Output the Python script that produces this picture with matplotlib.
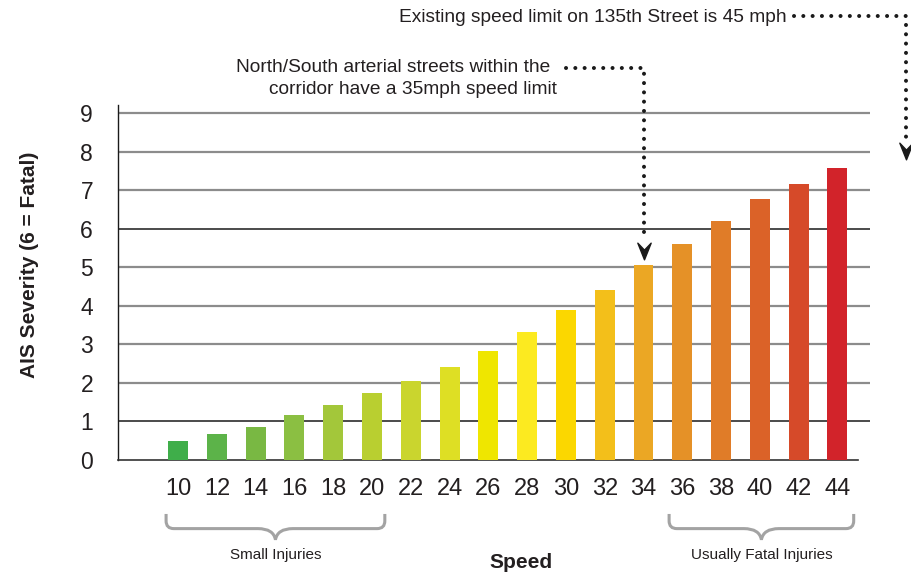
import numpy as np
import matplotlib.pyplot as plt
from matplotlib.path import Path
from matplotlib.patches import PathPatch

plt.rcParams['font.family'] = ['Liberation Sans', 'DejaVu Sans']

# speed (mph) vs. injury severity on the AIS scale
speeds = [10, 12, 14, 16, 18, 20, 22, 24, 26, 28, 30, 32, 34, 36, 38, 40, 42, 44]
severity = [0.48, 0.67, 0.86, 1.17, 1.43, 1.74, 2.05, 2.41, 2.83, 3.33,
            3.88, 4.42, 5.05, 5.60, 6.21, 6.76, 7.17, 7.57]
bar_colors = ['#3fae4a', '#5cb349', '#79b843', '#8bbf42', '#a3c73a', '#b9cf30',
              '#cad52e', '#dedf24', '#efe600', '#fcea20', '#fbd700', '#f3bf1a',
              '#eba724', '#e59127', '#e07c28', '#db6228', '#d64a29', '#d2232a']
y_ticks = [0, 1, 2, 3, 4, 5, 6, 7, 8, 9]
dark_lines = [1, 6]

txt = '#231f20'

fig = plt.figure(figsize=(9.12, 5.75), dpi=100)
ax = fig.add_axes([118 / 912, 115 / 575, 752 / 912, 355 / 575])

x = np.arange(len(speeds))
ax.bar(x, severity, width=0.515, color=bar_colors, zorder=3)

for v in y_ticks[1:]:
    if v in dark_lines:
        ax.axhline(v, color='#1a1a1a', lw=1.1, zorder=1)
    else:
        ax.axhline(v, color='#8c8c8c', lw=1.6, zorder=1)

ax.set_xlim(-1.55, 17.84)
ax.set_ylim(0, 9.21)
ax.set_xticks(x)
ax.set_xticklabels([str(s) for s in speeds], fontsize=17, color=txt)
ax.set_yticks(y_ticks)
ax.set_yticklabels([str(v) for v in y_ticks], fontsize=16.5, color=txt)
ax.tick_params(axis='both', length=0)
ax.tick_params(axis='x', pad=13)
ax.tick_params(axis='y', pad=18)

for s in ['top', 'right']:
    ax.spines[s].set_visible(False)
ax.spines['left'].set_color('#1a1a1a')
ax.spines['left'].set_linewidth(1.0)
ax.spines['bottom'].set_color('#333333')
ax.spines['bottom'].set_linewidth(1.2)
ax.spines['bottom'].set_bounds(-1.55, 17.53)

fig.text(30 / 912, 1 - 265 / 575, 'AIS Severity (6 = Fatal)', rotation=90,
         ha='center', va='center', fontsize=15, fontweight='bold', color=txt)
fig.text(521 / 912, 1 - 563 / 575, 'Speed', ha='center', va='center',
         fontsize=15, fontweight='bold', color=txt)


def brace(x0, x1, label):
    y0, yh, yt = -1.40, -1.78, -2.07
    rx, ry = 0.2, 0.2
    xm = (x0 + x1) / 2
    verts = [(x0, y0), (x0, yh + ry), (x0, yh), (x0 + rx, yh),
             (xm - 0.45, yh), (xm - 0.05, yh), (xm, yt),
             (xm + 0.05, yh), (xm + 0.45, yh),
             (x1 - rx, yh), (x1, yh), (x1, yh + ry), (x1, y0)]
    codes = [Path.MOVETO, Path.LINETO, Path.CURVE3, Path.CURVE3,
             Path.LINETO, Path.CURVE3, Path.CURVE3,
             Path.CURVE3, Path.CURVE3,
             Path.LINETO, Path.CURVE3, Path.CURVE3, Path.LINETO]
    ax.add_patch(PathPatch(Path(verts, codes), fill=False, ec='#a3a3a3',
                           lw=2.2, clip_on=False, capstyle='butt'))
    ax.text(xm, -2.47, label, ha='center', va='center', fontsize=11,
            color=txt, clip_on=False)


brace(speeds.index(10) - 0.31, speeds.index(20) + 0.33, 'Small Injuries')
brace(speeds.index(36) - 0.34, speeds.index(44) + 0.42, 'Usually Fatal Injuries')

# chevron arrow head pointing down
head = Path([(-0.4, 0.5), (0, 0.08), (0.4, 0.5), (0, -0.5), (-0.4, 0.5)],
            [Path.MOVETO, Path.LINETO, Path.LINETO, Path.LINETO, Path.CLOSEPOLY])
dots = dict(color='#1a1a1a', lw=2.9, ls=(0, (0.01, 2.3)),
            dash_capstyle='round', clip_on=False, zorder=5)

# 35 mph arterial streets -> bar at 34 mph
i34 = speeds.index(34)
tip = severity[i34] + 0.15
ax.plot([10.0, i34, i34], [10.17, 10.17, tip + 0.5], **dots)
ax.plot([i34], [tip + 0.22], marker=head, ms=12, color='#1a1a1a',
        clip_on=False, zorder=6)
fig.text(550 / 912, 1 - 68 / 575, 'North/South arterial streets within the',
         ha='right', va='center', fontsize=13.8, color=txt)
fig.text(557 / 912, 1 - 90 / 575, 'corridor have a 35mph speed limit',
         ha='right', va='center', fontsize=13.8, color=txt)

# 45 mph on 135th Street, beyond the last bar
ax.plot([15.87, 18.78, 18.78], [11.51, 11.51, 8.25], **dots)
ax.plot([18.78], [8.02], marker=head, ms=12, color='#1a1a1a',
        clip_on=False, zorder=6)
fig.text(787 / 912, 1 - 17 / 575, 'Existing speed limit on 135th Street is 45 mph',
         ha='right', va='center', fontsize=13.8, color=txt)

fig.savefig('out.png', dpi=100)
